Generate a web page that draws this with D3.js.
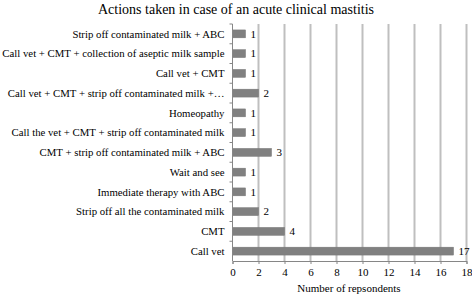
<!DOCTYPE html>
<html>
<head>
<meta charset="utf-8">
<script src="https://cdn.jsdelivr.net/npm/d3@7"></script>
<style>
  body { margin: 0; background: #fff; }
</style>
</head>
<body>
<div id="chart"></div>
<script>
// data, top row first
const categories = [
  "Strip off contaminated milk + ABC",
  "Call vet + CMT + collection of aseptic milk sample",
  "Call vet + CMT",
  "Call vet + CMT + strip off contaminated milk +…",
  "Homeopathy",
  "Call the vet + CMT + strip off contaminated milk",
  "CMT + strip off contaminated milk + ABC",
  "Wait and see",
  "Immediate therapy with ABC",
  "Strip off all the contaminated milk",
  "CMT",
  "Call vet"
];
const respondents = [1, 1, 1, 2, 1, 1, 3, 1, 1, 2, 4, 17];
const xTicks = [0, 2, 4, 6, 8, 10, 12, 14, 16, 18];

const font = '"Liberation Serif", "Times New Roman", Times, "DejaVu Serif", serif';
const width = 472, height = 296;
const margin = { top: 24, right: 5.5, bottom: 35, left: 232.5 };

const svg = d3.select('#chart').append('svg')
  .attr('width', width)
  .attr('height', height)
  .style('font-family', font);

const x = d3.scaleLinear()
  .domain([0, 18])
  .range([margin.left, width - margin.right]);

const y = d3.scaleBand()
  .domain(categories)
  .range([margin.top, height - margin.bottom])
  .paddingInner(0.6)
  .paddingOuter(0.3);

// title
svg.append('text')
  .attr('x', 236)
  .attr('y', 14)
  .attr('text-anchor', 'middle')
  .attr('font-size', 14)
  .text('Actions taken in case of an acute clinical mastitis');

// vertical gridlines
svg.append('g')
  .selectAll('line')
  .data(xTicks.filter(d => d > 0))
  .enter().append('line')
  .attr('x1', d => x(d)).attr('x2', d => x(d))
  .attr('y1', margin.top).attr('y2', height - margin.bottom)
  .attr('stroke', '#bfbfbf')
  .attr('stroke-width', 2);

// bars
svg.append('g')
  .selectAll('rect')
  .data(categories)
  .enter().append('rect')
  .attr('x', x(0))
  .attr('y', d => y(d))
  .attr('width', (d, i) => x(respondents[i]) - x(0))
  .attr('height', y.bandwidth())
  .attr('fill', '#808080')
  .attr('stroke', '#747474')
  .attr('stroke-width', 0.5);

// value labels
svg.append('g')
  .selectAll('text')
  .data(categories)
  .enter().append('text')
  .attr('x', (d, i) => x(respondents[i]) + 5)
  .attr('y', d => y(d) + y.bandwidth() / 2)
  .attr('dy', '0.35em')
  .attr('font-size', 11)
  .text((d, i) => respondents[i]);

// x axis
const xAxis = svg.append('g')
  .attr('transform', `translate(0,${height - margin.bottom})`)
  .call(d3.axisBottom(x).tickValues(xTicks).tickSize(3).tickPadding(4))
  .attr('font-family', null)
  .attr('font-size', 11);
xAxis.selectAll('text').attr('fill', '#000');
xAxis.select('.domain').attr('stroke', '#868686');
xAxis.selectAll('.tick line').attr('stroke', '#868686');

// y axis: ticks sit on the row boundaries
const rowH = (height - margin.bottom - margin.top) / categories.length;
const yAxis = svg.append('g')
  .attr('transform', `translate(${margin.left},0)`);
yAxis.append('line')
  .attr('x1', 0).attr('x2', 0)
  .attr('y1', margin.top).attr('y2', height - margin.bottom)
  .attr('stroke', '#868686');
yAxis.selectAll('.bound')
  .data(d3.range(categories.length))
  .enter().append('line')
  .attr('class', 'bound')
  .attr('x1', -3).attr('x2', 0)
  .attr('y1', i => margin.top + i * rowH)
  .attr('y2', i => margin.top + i * rowH)
  .attr('stroke', '#868686');
const labels = yAxis.selectAll('.label')
  .data(categories)
  .enter().append('text')
  .attr('class', 'label')
  .attr('x', -8)
  .attr('y', d => y(d) + y.bandwidth() / 2)
  .attr('dy', '0.35em')
  .attr('text-anchor', 'end')
  .attr('font-size', 11)
  .text(d => d);

// keep the longest label inside the left edge, whatever font got picked
let widest = 0;
labels.each(function () { widest = Math.max(widest, this.getComputedTextLength()); });
if (widest > margin.left - 10) labels.attr('font-size', 11 * (margin.left - 10) / widest);

// axis title
svg.append('text')
  .attr('x', 349)
  .attr('y', 292)
  .attr('text-anchor', 'middle')
  .attr('font-size', 11)
  .text('Number of repsondents');
</script>
</body>
</html>
